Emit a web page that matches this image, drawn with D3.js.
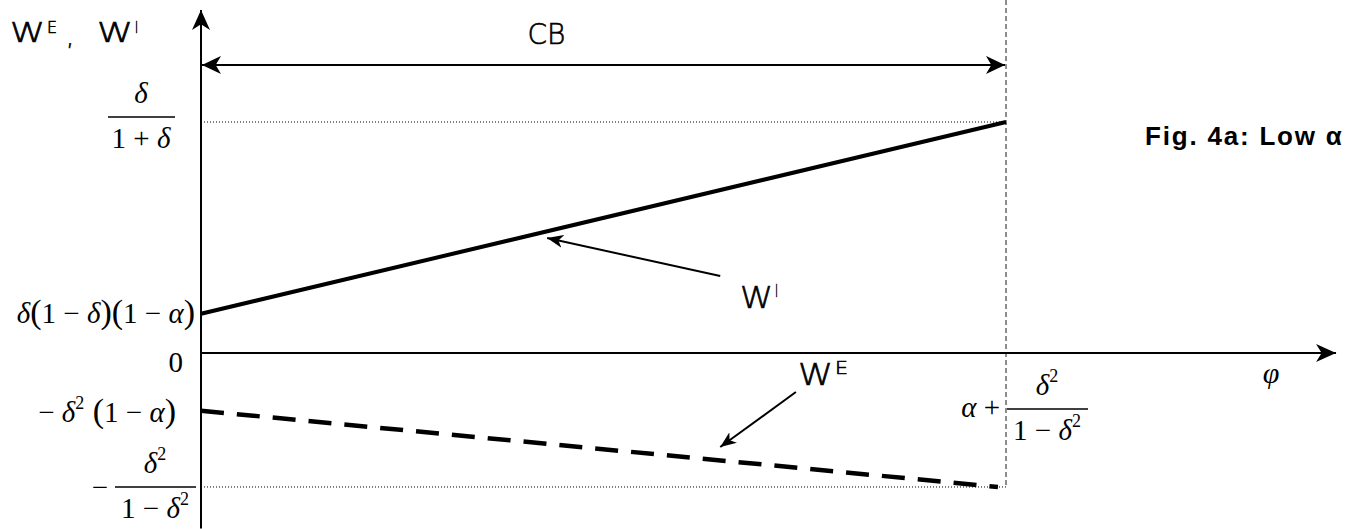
<!DOCTYPE html>
<html>
<head>
<meta charset="utf-8">
<script src="https://cdn.jsdelivr.net/npm/d3@7"></script>
<style>
  body { margin: 0; background: #fff; }
  svg { display: block; }
  .math { font-family: "Liberation Serif", "Times New Roman", serif; font-size: 29px; fill: #000; }
  .sans { font-family: "DejaVu Sans", "Liberation Sans", Arial, sans-serif; font-weight: 200; fill: #000; stroke: #000; stroke-width: 0.6px; }
  .fig { font-family: "Liberation Sans", Arial, sans-serif; fill: #000; }
</style>
</head>
<body>
<svg id="chart" width="1364" height="529"></svg>
<script>
// chart units: phi on x (end of CB region = 1), payoff on y (delta/(1+delta) = 1)
var wiLine = [[0, 0.17], [1, 1.0]];        // W^I, solid
var weLine = [[0, -0.25], [0.99, -0.58]];  // W^E, dashed
var cbEnd = 1;
var yLevels = [1.0, 0.17, 0, -0.25, -0.58]; // levels marked on the y axis
var cbLevel = 1.247;
var xAxisMax = 1.41, yAxisMax = 1.485, yAxisMin = -0.76;
var annotWI = {from: [0.645, 0.333], to: [0.43, 0.498]};
var annotWE = {from: [0.739, -0.169], to: [0.645, -0.407]};

var svg = d3.select("#chart");
var x = d3.scaleLinear().domain([0, 1]).range([201, 1006]);
var y = d3.scaleLinear().domain([0, 1]).range([353, 122]);

// arrow heads
var defs = svg.append("defs");
function marker(id, len, wid) {
  defs.append("marker")
      .attr("id", id)
      .attr("markerUnits", "userSpaceOnUse")
      .attr("viewBox", [-len, -wid / 2, len, wid].join(" "))
      .attr("refX", 0).attr("refY", 0)
      .attr("markerWidth", len).attr("markerHeight", wid)
      .attr("orient", "auto-start-reverse")
    .append("path")
      .attr("d", "M0,0L" + (-len) + "," + (-wid / 2) + "L" + (-len * 0.72) + ",0L" + (-len) + "," + (wid / 2) + "Z")
      .attr("fill", "#000");
}
marker("axisHead", 20, 18);
marker("cbHead", 19, 18);
marker("noteHead", 16, 13);

var line = d3.line().x(function(d) { return x(d[0]); }).y(function(d) { return y(d[1]); });

// guides
svg.append("line")
    .attr("x1", x(cbEnd)).attr("x2", x(cbEnd))
    .attr("y1", 0).attr("y2", y(yLevels[4]))
    .attr("stroke", "#444").attr("stroke-width", 1.2).attr("stroke-dasharray", "5,3");
[yLevels[0], yLevels[4]].forEach(function(v) {
  svg.append("line")
      .attr("x1", x(0)).attr("x2", x(cbEnd))
      .attr("y1", y(v)).attr("y2", y(v))
      .attr("stroke", "#000").attr("stroke-width", 1).attr("stroke-dasharray", "1,2");
});

// axes
svg.append("line")
    .attr("x1", x(0)).attr("x2", x(0))
    .attr("y1", y(yAxisMin)).attr("y2", y(yAxisMax))
    .attr("stroke", "#000").attr("stroke-width", 2)
    .attr("marker-end", "url(#axisHead)");
svg.append("line")
    .attr("x1", x(0)).attr("x2", x(xAxisMax))
    .attr("y1", y(0)).attr("y2", y(0))
    .attr("stroke", "#000").attr("stroke-width", 2)
    .attr("marker-end", "url(#axisHead)");

// CB span
svg.append("line")
    .attr("x1", x(0) + 1).attr("x2", x(cbEnd) - 1)
    .attr("y1", y(cbLevel)).attr("y2", y(cbLevel))
    .attr("stroke", "#000").attr("stroke-width", 2)
    .attr("marker-start", "url(#cbHead)")
    .attr("marker-end", "url(#cbHead)");

// series
svg.append("path").attr("d", line(wiLine))
    .attr("fill", "none").attr("stroke", "#000").attr("stroke-width", 4);
svg.append("path").attr("d", line(weLine))
    .attr("fill", "none").attr("stroke", "#000").attr("stroke-width", 4.5)
    .attr("stroke-dasharray", "23,13");

// annotation arrows
[annotWI, annotWE].forEach(function(a) {
  svg.append("line")
      .attr("x1", x(a.from[0])).attr("y1", y(a.from[1]))
      .attr("x2", x(a.to[0])).attr("y2", y(a.to[1]))
      .attr("stroke", "#000").attr("stroke-width", 2)
      .attr("marker-end", "url(#noteHead)");
});

// math text: runs of [text, kind], kind n = upright, i = italic, p = tall paren, s = superscript
function mathText(px, py, runs, anchor, size) {
  var t = svg.append("text").attr("class", "math")
      .attr("x", px).attr("y", py)
      .attr("text-anchor", anchor || "start");
  if (size) t.style("font-size", size + "px");
  var up = false;
  runs.forEach(function(r) {
    var s = t.append("tspan").text(r[0]);
    if (r[1] == "i") s.style("font-style", "italic");
    if (r[1] == "p") s.style("font-size", "34px");
    if (r[1] == "s") { s.style("font-size", "18px").attr("dy", -13); up = true; }
    else if (up) { s.attr("dy", 13); up = false; }
  });
  return t;
}
function fraction(cx, barY, x0, x1, num, den) {
  svg.append("line").attr("x1", x0).attr("x2", x1)
      .attr("y1", barY).attr("y2", barY)
      .attr("stroke", "#000").attr("stroke-width", 1.3);
  mathText(cx, barY - 14, num, "middle");
  mathText(cx, barY + 31, den, "middle");
}

var d = "\u03b4", al = "\u03b1", mn = "\u2212";

// y labels
fraction(141, y(yLevels[0]) - 5, 108, 175, [[d, "i"]], [["1 + ", "n"], [d, "i"]]);
mathText(195, y(yLevels[1]) + 9,
  [[d, "i"], ["(", "p"], ["1 " + mn + " ", "n"], [d, "i"], [")(", "p"], ["1 " + mn + " ", "n"], [al, "i"], [")", "p"]], "end");
mathText(183, y(yLevels[2]) + 19, [["0", "n"]], "end", 29);
mathText(176, y(yLevels[3]) + 11,
  [[mn + " ", "n"], [d, "i"], ["2", "s"], [" (", "p"], ["1 " + mn + " ", "n"], [al, "i"], [")", "p"]], "end");
mathText(100, y(yLevels[4]) + 10, [[mn, "n"]], "middle");
fraction(155, y(yLevels[4]), 115, 196, [[d, "i"], ["2", "s"]], [["1 " + mn + " ", "n"], [d, "i"], ["2", "s"]]);

// x label
mathText(1000, 417, [[al, "i"], [" +", "n"]], "end");
fraction(1047, 409, 1007, 1088, [[d, "i"], ["2", "s"]], [["1 " + mn + " ", "n"], [d, "i"], ["2", "s"]]);
mathText(1271, 383, [["\u03c6", "i"]], "middle", 30);

// sans labels, W drawn wide as in the figure
function wLabel(px, py, wSize, wWidth, sup, supSize, supWidth) {
  svg.append("text").attr("class", "sans")
      .attr("x", px).attr("y", py)
      .style("font-size", wSize + "px")
      .attr("textLength", wWidth).attr("lengthAdjust", "spacingAndGlyphs")
      .text("W");
  svg.append("text").attr("class", "sans")
      .attr("x", px + wWidth + 2).attr("y", py - wSize * 0.36)
      .style("font-size", supSize + "px")
      .attr("textLength", supWidth).attr("lengthAdjust", "spacingAndGlyphs")
      .text(sup);
}
wLabel(10, 42, 26, 35, "E", 15, 10);
svg.append("text").attr("class", "sans").attr("x", 66).attr("y", 45)
    .style("font-size", "26px").text(",");
wLabel(97, 42, 26, 36, "I", 15, 3);
wLabel(740, 308, 30, 33, "I", 17, 3);
wLabel(798, 385, 30, 35, "E", 17, 13);

svg.append("text").attr("class", "sans")
    .attr("x", x(cbEnd / 2) - 76).attr("y", 44)
    .style("font-size", "28px").text("CB");

svg.append("text").attr("class", "fig")
    .attr("x", 1145).attr("y", 145)
    .style("font-size", "26px").style("font-weight", "bold")
    .style("letter-spacing", "1.8px")
    .text("Fig. 4a: Low \u03b1");
</script>
</body>
</html>
